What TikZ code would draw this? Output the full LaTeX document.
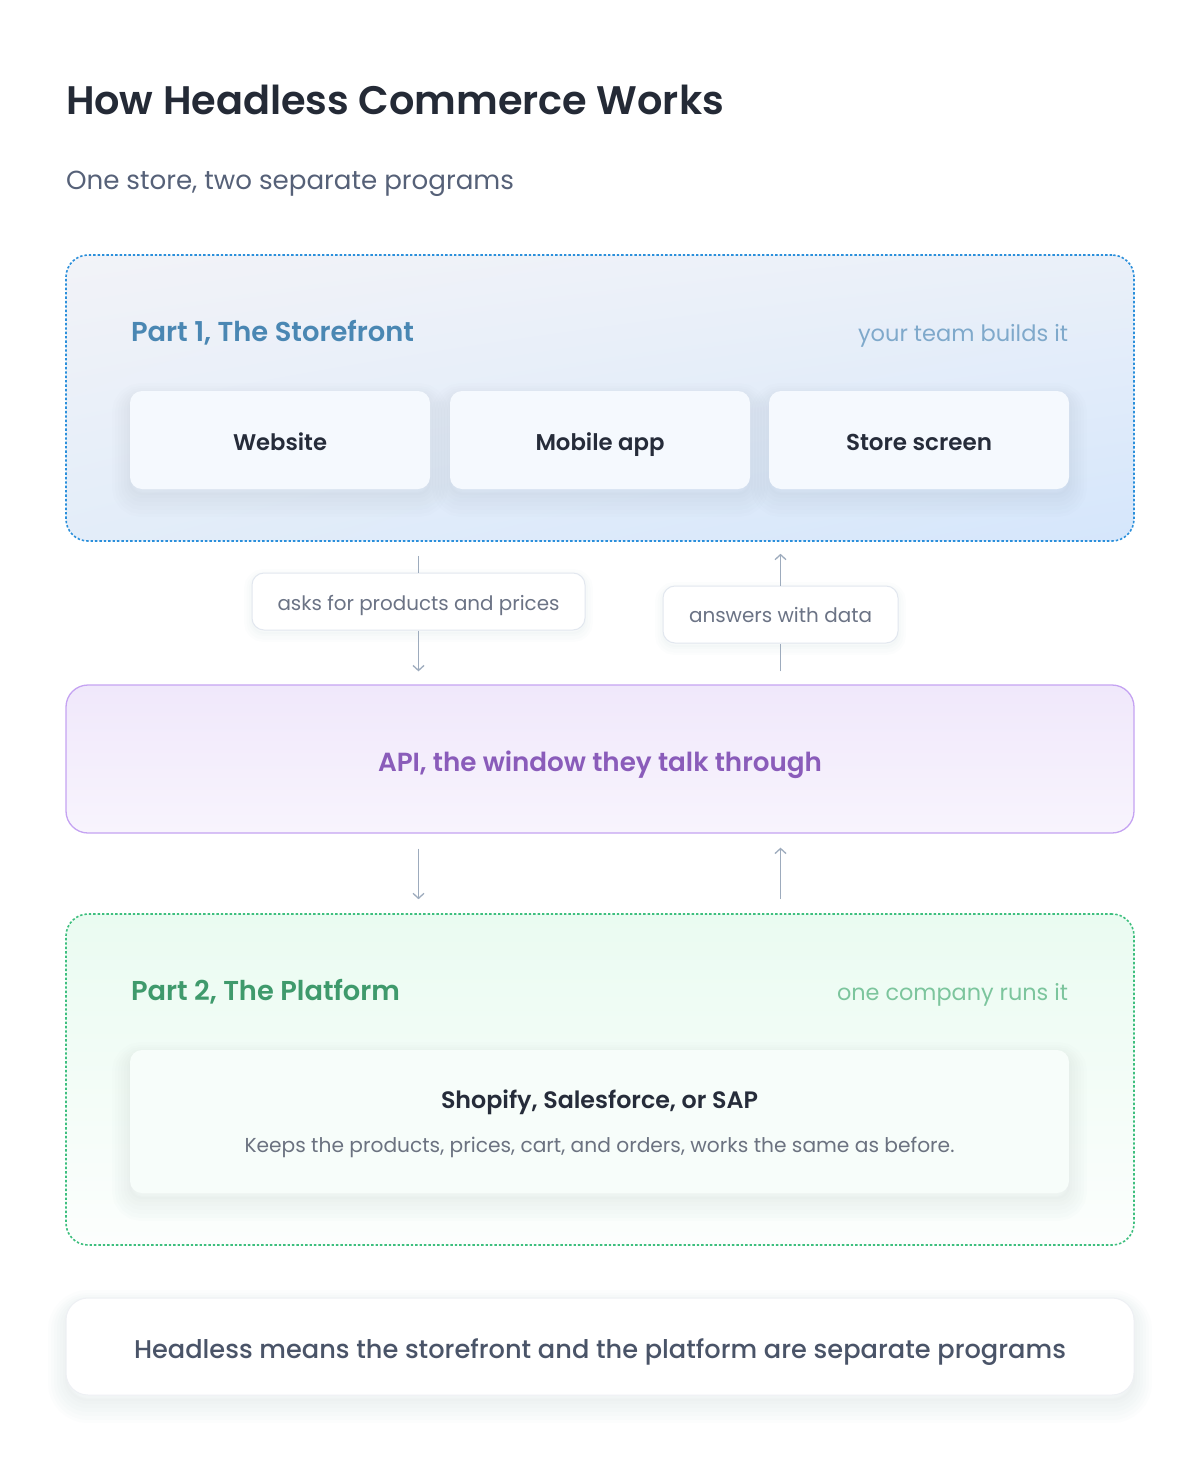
\documentclass[tikz,border=0pt]{standalone}
\usepackage{fontspec}
\setmainfont{Poppins}
\newfontfamily\fsemi{Poppins SemiBold}
\newfontfamily\fmed{Poppins Medium}
\newfontfamily\freg{Poppins}
\usetikzlibrary{arrows.meta,shadings}
\newsavebox\fitbox
\newcommand\fitw[3]{\sbox\fitbox{#2\fontsize{10pt}{12pt}\selectfont #3}\pgfmathsetmacro\fitsz{10*#1/\the\wd\fitbox}{#2\fontsize{\fitsz pt}{\fitsz pt}\selectfont #3}}
\definecolor{ink}{HTML}{242A36}
\definecolor{subc}{HTML}{566178}
\definecolor{p1title}{HTML}{4A87B3}
\definecolor{p1note}{HTML}{7FA9CB}
\definecolor{p1border}{HTML}{2A8FDB}
\definecolor{p1ul}{HTML}{F2F3F8}
\definecolor{p1ur}{HTML}{EAF0F9}
\definecolor{p1ll}{HTML}{E3EDF9}
\definecolor{p1lr}{HTML}{D5E6FB}
\definecolor{cardfill}{HTML}{F5F9FE}
\definecolor{cardink}{HTML}{262C3A}
\definecolor{arrc}{HTML}{9DABBD}
\definecolor{labborder}{HTML}{E2E7EF}
\definecolor{labink}{HTML}{6B7385}
\definecolor{apiborder}{HTML}{C5A3F2}
\definecolor{apitop}{HTML}{F0E8FB}
\definecolor{apibot}{HTML}{F8F4FD}
\definecolor{apiink}{HTML}{8A5CBA}
\definecolor{p2border}{HTML}{3DBF7E}
\definecolor{p2top}{HTML}{EAFBF1}
\definecolor{p2bot}{HTML}{FCFEFD}
\definecolor{p2title}{HTML}{3F9A6C}
\definecolor{p2note}{HTML}{7CC59D}
\definecolor{card2fill}{HTML}{F7FDFA}
\definecolor{descink}{HTML}{6B7280}
\definecolor{botink}{HTML}{4A5468}
\definecolor{botborder}{HTML}{EEF0F4}
\definecolor{shc}{HTML}{4A5F8A}
\begin{document}
\begin{tikzpicture}[x=1pt,y=-1pt,
  part/.style={rounded corners=22pt, minimum width=1068pt, inner sep=0pt, line width=1.6pt, dash pattern=on 2.4pt off 2pt},
  shl/.style={preaction={draw=shc, draw opacity=#1, solid, line width=36pt, transform canvas={yshift=-10pt}},
              preaction={draw=shc, draw opacity=#1, solid, line width=30pt, transform canvas={yshift=-10pt}},
              preaction={draw=shc, draw opacity=#1, solid, line width=24pt, transform canvas={yshift=-9pt}},
              preaction={draw=shc, draw opacity=#1, solid, line width=18pt, transform canvas={yshift=-8pt}},
              preaction={draw=shc, draw opacity=#1, solid, line width=12pt, transform canvas={yshift=-7pt}},
              preaction={draw=shc, draw opacity=#1, solid, line width=6pt, transform canvas={yshift=-6pt}},
              preaction={draw=shc, draw opacity=#1, solid, line width=2pt, transform canvas={yshift=-5pt}}},
  shl/.default=0.011,
  smallsh/.style={preaction={draw=shc, draw opacity=0.012, line width=16pt, transform canvas={yshift=-4pt}},
                  preaction={draw=shc, draw opacity=0.012, line width=11pt, transform canvas={yshift=-4pt}},
                  preaction={draw=shc, draw opacity=0.012, line width=6pt, transform canvas={yshift=-3pt}},
                  preaction={draw=shc, draw opacity=0.012, line width=2pt, transform canvas={yshift=-3pt}}},
  card/.style={rounded corners=12pt, fill=cardfill, inner sep=0pt, minimum width=300pt, minimum height=98pt, text height=20pt, text depth=0pt, shl},
  lab/.style={rounded corners=12pt, fill=white, draw=labborder, line width=1pt, inner sep=0pt, text depth=0pt, smallsh},
  txt/.style={inner sep=0pt, outer sep=0pt},
  arr/.style={draw=arrc, line width=1.3pt},
  tip/.style={arr, -{Straight Barb[length=5pt,width=11pt]}}]
\useasboundingbox[fill=white] (0,0) rectangle (1200,1461);

% title
\node[txt, anchor=base west, text=ink] (title) at (66,114) {\fitw{658}{\fsemi}{How Headless Commerce Works}};
\node[txt, anchor=base west, text=subc] (sub) at (66,189) {\fitw{448}{\freg}{One store, two separate programs}};

% part 1
\node[part, minimum height=286pt, shade, upper left=p1ul, upper right=p1ur, lower left=p1ll, lower right=p1lr, draw=p1border] (p1) at (600,398) {};
\node[txt, anchor=base west, text=p1title] (p1t) at (131,341) {\fitw{283}{\fsemi}{Part 1, The Storefront}};
\node[txt, anchor=base east, text=p1note] (p1n) at (1068,341) {\fitw{210}{\freg}{your team builds it}};
\node[card, text=cardink] (web) at (280,440) {\fitw{94}{\fsemi}{Website}};
\node[card, text=cardink] (mob) at (600,440) {\fitw{129}{\fsemi}{Mobile app}};
\node[card, text=cardink] (scr) at (919,440) {\fitw{146}{\fsemi}{Store screen}};

% API
\node[part, solid, minimum height=148pt, top color=apitop, bottom color=apibot, draw=apiborder, line width=1.3pt, text=apiink, text height=24pt, text depth=0pt] (api) at (600,759) {\fitw{444}{\fsemi}{API, the window they talk through}};

% labels
\node[lab, minimum width=333pt, minimum height=57pt, text height=17pt, text=labink] (l1) at (418.5,601.5) {\fitw{282}{\freg}{asks for products and prices}};
\node[lab, minimum width=235pt, minimum height=57pt, text height=15pt, text=labink] (l2) at (780.5,614.5) {\fitw{183}{\freg}{answers with data}};

% part 2
\node[part, minimum height=331pt, top color=p2top, bottom color=p2bot, draw=p2border] (p2) at (600,1079.5) {};
\node[txt, anchor=base west, text=p2title] (p2t) at (131,1000) {\fitw{269}{\fsemi}{Part 2, The Platform}};
\node[txt, anchor=base east, text=p2note] (p2n) at (1068,1000) {\fitw{231}{\freg}{one company runs it}};
\node[card, fill=card2fill, minimum width=939pt, minimum height=143pt] (plat) at (599.5,1121.5) {};
\node[txt, anchor=base, text=cardink] (platn) at (599.5,1108) {\fitw{317}{\fsemi}{Shopify, Salesforce, or SAP}};
\node[txt, anchor=base, text=descink] (platd) at (599.5,1152) {\fitw{710}{\freg}{Keeps the products, prices, cart, and orders, works the same as before.}};

% bottom note
\node[part, solid, minimum height=97pt, fill=white, draw=botborder, line width=1pt, text=botink, text height=23pt, text depth=0pt, shl=0.01] (bot) at (600,1346.5) {\fitw{932}{\fmed}{Headless means the storefront and the platform are separate programs}};

% connectors
\draw[arr, shorten <=14pt] (p1.south -| l1) -- (l1.north);
\draw[tip, shorten >=13pt] (l1.south) -- (api.north -| l1);
\draw[tip, shorten >=12pt] (l2.north) -- (p1.south -| l2);
\draw[arr, shorten <=13pt] (api.north -| l2) -- (l2.south);
\draw[tip, shorten <=15pt, shorten >=14pt] (api.south -| l1) -- (p2.north -| l1);
\draw[tip, shorten <=14pt, shorten >=14pt] (p2.north -| l2) -- (api.south -| l2);
\end{tikzpicture}
\end{document}
